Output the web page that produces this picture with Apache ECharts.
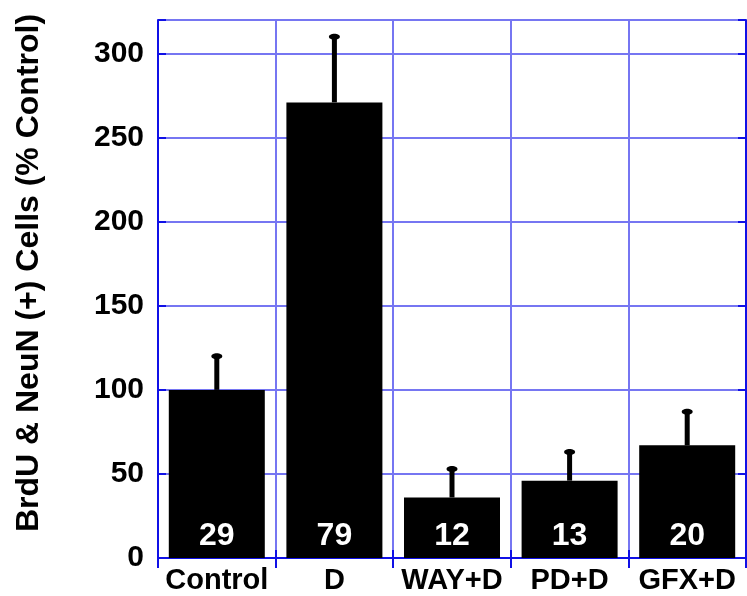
<!DOCTYPE html>
<html>
<head>
<meta charset="utf-8">
<script src="https://cdn.jsdelivr.net/npm/echarts@6/dist/echarts.min.js"></script>
<style>
html,body{margin:0;padding:0;background:#fff;}
#chart{width:747px;height:596px;}
</style>
</head>
<body>
<div id="chart"></div>
<script>
const categories = ['Control', 'D', 'WAY+D', 'PD+D', 'GFX+D'];
const means = [100, 271, 36, 46, 67];
const errors = [20, 39, 17, 17, 20];
const nCounts = [29, 79, 12, 13, 20];
const yTicks = [0, 50, 100, 150, 200, 250, 300];
const yName = 'BrdU & NeuN (+) Cells (% Control)';

const FONT = '"Liberation Sans", Arial, sans-serif';
const BORDER = '#1010e6';
const GRIDC = '#7676f2';

const chart = echarts.init(document.getElementById('chart'));
const axisLine = {show: true, lineStyle: {color: BORDER, width: 2}};
chart.setOption({
  animation: false,
  backgroundColor: '#fff',
  grid: {left: 158, right: 1, top: 20, bottom: 38, containLabel: false},
  xAxis: [{
    type: 'category', data: categories, position: 'bottom',
    axisLine: axisLine,
    axisTick: {show: true, inside: true, length: 8, lineStyle: {color: BORDER, width: 2}},
    axisLabel: {color: '#000', fontFamily: FONT, fontWeight: 'bold', fontSize: 29, margin: 8, interval: 0},
    splitLine: {show: true, lineStyle: {color: GRIDC, width: 2}}
  }, {
    type: 'category', data: categories, position: 'top',
    axisLine: axisLine,
    axisTick: {show: true, inside: true, length: 10, lineStyle: {color: BORDER, width: 2}},
    axisLabel: {show: false},
    splitLine: {show: false}
  }],
  yAxis: [{
    type: 'value', min: 0, max: 320, interval: 50, position: 'left',
    axisLine: axisLine,
    axisTick: {show: true, inside: true, length: 8, lineStyle: {color: BORDER, width: 2}},
    axisLabel: {color: '#000', fontFamily: FONT, fontWeight: 'bold', fontSize: 30, margin: 14,
      formatter: v => yTicks.indexOf(v) >= 0 ? String(v) : ''},
    splitLine: {show: true, lineStyle: {color: GRIDC, width: 2}}
  }, {
    type: 'value', min: 0, max: 320, interval: 50, position: 'right',
    axisLine: axisLine,
    axisTick: {show: true, inside: true, length: 8, lineStyle: {color: BORDER, width: 2}},
    axisLabel: {show: false},
    splitLine: {show: false}
  }],
  graphic: [{
    type: 'text', x: 29, y: 273, rotation: Math.PI / 2,
    style: {text: yName, font: 'bold 32px ' + FONT, fill: '#000', textAlign: 'center', textVerticalAlign: 'middle'}
  }],
  series: [{
    type: 'bar', data: means, barWidth: 96, xAxisIndex: 0, yAxisIndex: 0,
    itemStyle: {color: '#000'},
    label: {show: true, position: 'insideBottom', distance: 6, color: '#fff',
      fontFamily: FONT, fontWeight: 'bold', fontSize: 32,
      formatter: p => String(nCounts[p.dataIndex])},
    z: 3
  }, {
    type: 'custom', xAxisIndex: 0, yAxisIndex: 0, z: 4,
    data: means.map((m, i) => [i, m, m + errors[i]]),
    renderItem: function (params, api) {
      const base = api.coord([api.value(0), api.value(1)]);
      const top = api.coord([api.value(0), api.value(2)]);
      return {
        type: 'group',
        children: [{
          type: 'line',
          shape: {x1: base[0], y1: base[1], x2: top[0], y2: top[1]},
          style: {stroke: '#000', lineWidth: 5}
        }, {
          type: 'ellipse',
          shape: {cx: top[0], cy: top[1], rx: 5.5, ry: 3},
          style: {fill: '#000'}
        }]
      };
    }
  }]
});
</script>
</body>
</html>
